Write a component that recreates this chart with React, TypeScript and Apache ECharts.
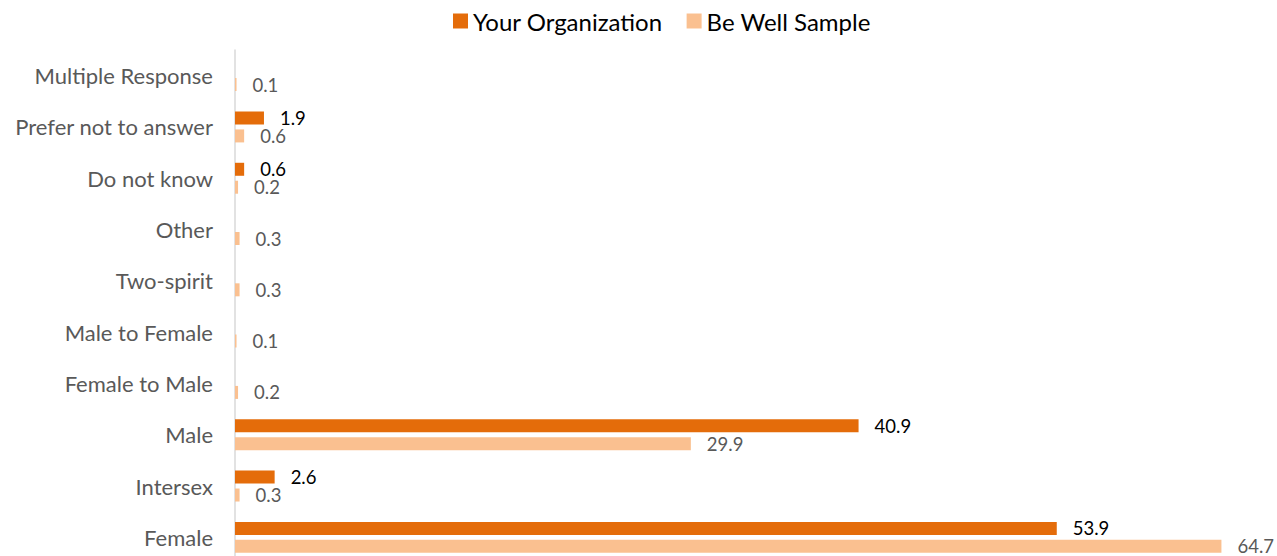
import React, { useEffect, useRef } from "react";
import * as echarts from "echarts";

const categories = [
  "Female",
  "Intersex",
  "Male",
  "Female to Male",
  "Male to Female",
  "Two-spirit",
  "Other",
  "Do not know",
  "Prefer not to answer",
  "Multiple Response",
];
const yourOrganization = [53.9, 2.6, 40.9, null, null, null, null, 0.6, 1.9, null];
const beWellSample = [64.7, 0.3, 29.9, 0.2, 0.1, 0.3, 0.3, 0.2, 0.6, 0.1];
const seriesNames = ["Your Organization", "Be Well Sample"];

const FONT = "Lato, 'Open Sans', sans-serif";

export default function App() {
  const ref = useRef<HTMLDivElement>(null);
  useEffect(() => {
    if (!ref.current) return;
    const chart = echarts.init(ref.current, undefined, { renderer: "svg" });
    chart.setOption({
      animation: false,
      backgroundColor: "#ffffff",
      textStyle: { fontFamily: FONT },
      legend: {
        data: seriesNames,
        left: 448,
        top: 4,
        itemWidth: 15,
        itemHeight: 15,
        itemGap: 24,
        icon: "rect",
        textStyle: { fontSize: 24, color: "#000000", fontFamily: FONT },
      },
      grid: { left: 235, top: 50, width: 991, height: 513, containLabel: false },
      xAxis: {
        type: "value",
        min: 0,
        max: 65,
        show: false,
        splitLine: { show: false },
      },
      yAxis: {
        type: "category",
        data: categories,
        axisLine: { show: true, lineStyle: { color: "#D9D9D9", width: 1.5 } },
        axisTick: { show: false },
        axisLabel: { color: "#595959", fontSize: 22, fontFamily: FONT, margin: 22 },
      },
      series: [
        {
          name: seriesNames[0],
          type: "bar",
          data: yourOrganization,
          barWidth: 13,
          barGap: "38%",
          itemStyle: { color: "#E46C0A" },
          label: {
            show: true,
            position: "right",
            distance: 16,
            color: "#000000",
            fontSize: 18.5,
            fontFamily: FONT,
          },
        },
        {
          name: seriesNames[1],
          type: "bar",
          data: beWellSample,
          barWidth: 13,
          barGap: "38%",
          itemStyle: { color: "#FAC090" },
          label: {
            show: true,
            position: "right",
            distance: 16,
            color: "#595959",
            fontSize: 18.5,
            fontFamily: FONT,
          },
        },
      ],
    });
    return () => chart.dispose();
  }, []);
  return (
    <div
      ref={ref}
      style={{ position: "fixed", left: 0, top: 0, width: 1277, height: 580 }}
    />
  );
}
